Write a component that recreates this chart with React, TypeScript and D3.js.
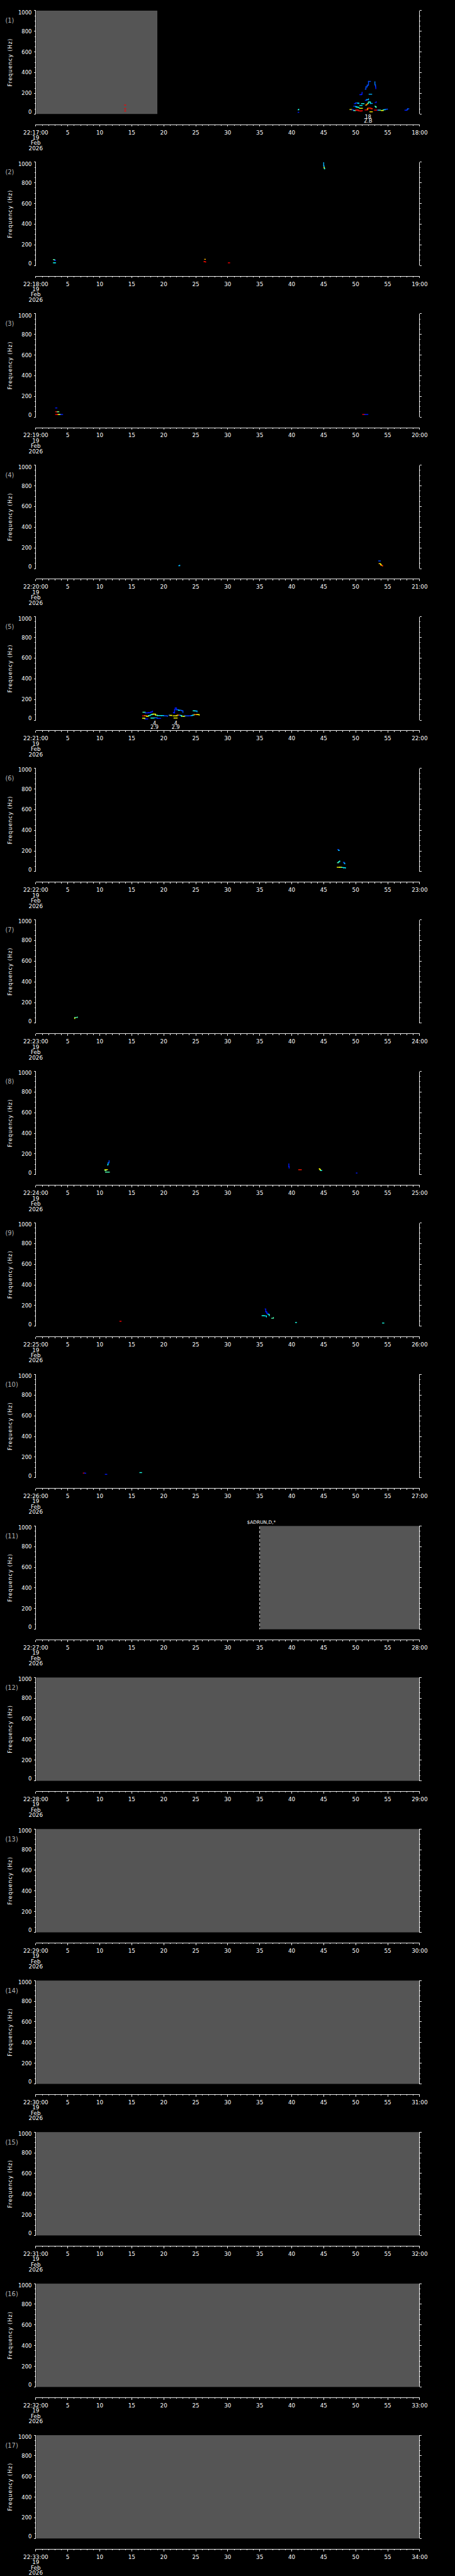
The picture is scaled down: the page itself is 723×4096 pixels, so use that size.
import React from 'react';
import * as d3 from 'd3';

// reference layout is 1024 x 5802, drawn through a viewBox into 723 x 4096
const W = 1024;
const H = 5802;
const X0 = 80.5;
const X1 = 944.5;
const TOP0 = 24;
const PITCH = 341.3;
const PLOT_H = 232.7;
const AXIS_GAP = 24;
const FONT = 'DejaVu Sans, sans-serif';

// one panel per minute, 22:17 .. 22:33
const panelMinutes = d3.range(17, 34);
const secondTicks = [5, 10, 15, 20, 25, 30, 35, 40, 45, 50, 55];
const freqTicks = [0, 200, 400, 600, 800, 1000];
const dateLines = ['19', 'Feb', '2026'];

// no-data (gray) spans: [panel, from s, to s]
const grayRanges: [number, number, number][] = [
  [1, 0, 19],
  [11, 35, 60],
  [12, 0, 60],
  [13, 0, 60],
  [14, 0, 60],
  [15, 0, 60],
  [16, 0, 60],
  [17, 0, 60],
];

// dashed event markers: panel, second, text
const markerLines = [{ panel: 11, t: 35, text: '$ADRUN,D,*' }];

// labels under detections: panel, second, two lines
const eventLabels = [
  { panel: 1, t: 51.93, lines: ['18', '2.B'] },
  { panel: 5, t: 18.56, lines: ['4', '2.9'] },
  { panel: 5, t: 21.88, lines: ['4', '2.9'] },
];

// tracks: [second, Hz, level 0..1]
type Pt = [number, number, number];

const p1Tracks: Pt[][] = [
  [[51.5, 240, .2], [51.6, 262, .2], [51.8, 278, .2], [52.0, 315, .2], [52.3, 315, .25]],
  [[53.0, 311, .25], [53.0, 282, .2], [53.1, 262, .15], [53.15, 245, .15]],
  [[50.65, 187, .15], [50.9, 190, .15], [51.0, 210, .2]],
  [[52.1, 191, .3], [52.5, 191, .4]],
  [[51.5, 132, .15], [51.7, 138, .3], [52.0, 146, .2]],
  [[53.04, 110, .15], [53.2, 118, .2]],
  [[49.8, 100, .15], [50.0, 107, .2], [50.3, 105, .35], [50.5, 102, .2]],
  [[50.9, 100, .4], [51.3, 100, .6]],
  [[51.54, 86, .7], [51.7, 92, .75], [51.82, 102, .65]],
  [[51.9, 102, .4], [52.0, 115, .45], [52.2, 115, .4], [52.3, 102, .3], [52.6, 102, .2]],
  [[49.7, 75, .2], [50.0, 70, .35], [50.2, 65, .4], [50.5, 62, .2]],
  [[50.66, 82, .35], [51.0, 82, .2]],
  [[53.0, 75, .4], [53.1, 70, .45], [53.2, 64, .6]],
  [[50.6, 55, .6], [51.05, 55, .4]],
  [[51.8, 47, .65], [51.9, 57, .85], [52.2, 57, .85], [52.4, 52, .85], [52.6, 50, .88]],
  [[51.47, 39, .88], [51.84, 39, .85]],
  [[49.1, 43, .62], [49.4, 40, .15], [49.7, 33, .45], [50.0, 36, .88], [50.2, 40, .88], [50.4, 31, .85], [50.7, 29, .88], [51.0, 33, .85]],
  [[52.93, 37, .88], [53.4, 37, .2], [53.6, 37, .45], [53.9, 37, .4]],
  [[54.0, 33, .62], [54.3, 40, .4], [54.6, 45, .2], [54.95, 47, .15]],
  [[52.23, 21, .65], [52.6, 21, .7]],
  [[57.7, 36, .15], [58.0, 40, .2], [58.1, 50, .2], [58.3, 50, .2]],
  [[41.0, 40, .4], [41.1, 45, .35]],
  [[41.0, 16, .15], [41.1, 16, .15]],
  [[13.9, 86, .88], [14.05, 86, .62]],
  [[13.9, 50, .88], [14.05, 50, .88]],
  [[13.9, 29, .88], [14.05, 29, .88]],
];

const p2Tracks: Pt[][] = [
  [[45.0, 995, .3], [45.0, 965, .3], [45.05, 950, .62], [45.1, 940, .4], [45.15, 935, .15]],
  [[2.75, 57, .5], [2.9, 57, .45], [2.95, 50, .15], [3.1, 50, .15]],
  [[2.75, 26, .4], [2.95, 26, .35], [3.1, 26, .15]],
  [[26.4, 60, .7], [26.5, 60, .7]],
  [[26.3, 38, .85], [26.45, 36, .9], [26.55, 32, .88]],
  [[30.1, 26, .88], [30.3, 26, .15]],
];

const p3Tracks: Pt[][] = [
  [[3.1, 88, .15], [3.3, 88, .15]],
  [[3.1, 51, .88], [3.35, 51, .5], [3.6, 51, .4]],
  [[3.1, 25, .88], [3.4, 25, .88], [3.5, 25, .62], [3.7, 25, .5], [3.9, 25, .15], [4.2, 25, .15]],
  [[51.1, 25, .88], [51.4, 25, .15], [51.9, 25, .15]],
];

const p4Tracks: Pt[][] = [
  [[22.35, 28, .3], [22.5, 33, .25]],
  [[53.6, 74, .2], [53.85, 74, .3]],
  [[53.65, 47, .7], [53.8, 47, .62], [53.9, 38, .65], [54.0, 30, .8], [54.2, 25, .85]],
];

const p5Tracks: Pt[][] = [
  [[16.75, 76, .45], [17.1, 70, .15], [17.6, 72, .15], [18.0, 80, .15], [18.25, 87, .15]],
  [[16.7, 41, .88], [17.0, 41, .75], [17.33, 37, .62], [17.6, 44, .4], [17.9, 51, .35], [18.1, 55, .45], [18.32, 58, .62], [18.72, 48, .55], [19.0, 44, .4], [19.64, 44, .35], [20.0, 41, .2], [20.57, 37, .15]],
  [[20.8, 48, .2], [20.95, 46, .62], [21.26, 44, .2]],
  [[21.49, 41, .62], [21.96, 41, .62], [22.1, 48, .75], [22.4, 48, .2], [22.65, 44, .4], [22.8, 37, .55], [23.11, 37, .62], [23.3, 41, .2], [24.0, 41, .15], [24.27, 44, .3], [24.5, 48, .4], [24.74, 53, .75], [25.19, 53, .62], [25.54, 48, .62]],
  [[16.7, 18, .62], [17.0, 15, .6], [17.1, 11, .15], [17.5, 11, .15]],
  [[18.0, 20, .4], [18.5, 22, .25], [19.0, 17, .15], [19.5, 17, .15]],
  [[21.6, 20, .62], [22.1, 20, .62]],
  [[21.5, 75, .15], [21.6, 70, .15], [21.7, 100, .15], [21.8, 118, .15], [21.95, 118, .15], [22.0, 100, .2], [22.3, 95, .4], [22.6, 95, .2], [22.8, 90, .2], [23.0, 75, .2]],
  [[24.6, 90, .4], [24.9, 88, .3], [25.2, 80, .15]],
];

const p6Tracks: Pt[][] = [
  [[47.2, 215, .2], [47.3, 205, .3], [47.45, 205, .2]],
  [[47.16, 86, .45], [47.3, 95, .4], [47.5, 103, .35]],
  [[48.07, 90, .2], [48.2, 82, .3], [48.3, 75, .2]],
  [[47.12, 42, .62], [47.5, 42, .6], [47.8, 40, .4], [48.1, 38, .35], [48.4, 35, .2]],
];

const p7Tracks: Pt[][] = [
  [[6.07, 44, .62], [6.1, 55, .45], [6.5, 59, .4]],
];

const p8Tracks: Pt[][] = [
  [[11.2, 94, .35], [11.3, 115, .2], [11.46, 135, .2]],
  [[10.8, 49, .62], [11.2, 49, .55]],
  [[10.8, 40, .5], [11.0, 40, .5]],
  [[10.9, 25, .45], [11.5, 25, .4]],
  [[39.55, 104, .15], [39.55, 80, .15], [39.6, 64, .62]],
  [[41.1, 48, .85], [41.5, 48, .2]],
  [[44.3, 57, .62], [44.4, 50, .62], [44.5, 41, .4], [44.7, 41, .35]],
  [[50.1, 16, .15], [50.2, 16, .15]],
];

const p9Tracks: Pt[][] = [
  [[13.15, 48, .88], [13.33, 48, .15]],
  [[35.85, 167, .15], [35.95, 140, .15], [36.1, 125, .15], [36.3, 115, .4], [36.5, 102, .45]],
  [[35.37, 102, .4], [35.7, 100, .35], [36.05, 90, .15]],
  [[36.87, 77, .45], [37.14, 84, .5]],
  [[40.6, 36, .4], [40.75, 36, .2]],
  [[54.2, 31, .4], [54.4, 31, .2]],
];

const p10Tracks: Pt[][] = [
  [[7.43, 45, .88], [7.6, 45, .15], [7.8, 43, .15]],
  [[10.87, 33, .15], [11.1, 33, .15]],
  [[16.27, 50, .4], [16.54, 50, .2]],
];

const tracksByPanel: Pt[][][] = [
  p1Tracks, p2Tracks, p3Tracks, p4Tracks, p5Tracks, p6Tracks, p7Tracks, p8Tracks, p9Tracks, p10Tracks,
];

const x = d3.scaleLinear().domain([0, 60]).range([X0, X1]);
const y = d3.scaleLinear().domain([0, 1000]).range([PLOT_H, 0]);
const jet = d3
  .scaleLinear<string>()
  .domain([0, 0.125, 0.375, 0.625, 0.875, 1])
  .range(['#00007f', '#0000ff', '#00ffff', '#ffff00', '#ff0000', '#7f0000'])
  .clamp(true);

function Panel({ idx, minute }: { idx: number; minute: number }) {
  const n = idx + 1;
  const top = TOP0 + idx * PITCH;
  const axisY = PLOT_H + AXIS_GAP;
  const tracks = tracksByPanel[idx] || [];
  const grays = grayRanges.filter((g) => g[0] === n);
  const markers = markerLines.filter((m) => m.panel === n);
  const labels = eventLabels.filter((l) => l.panel === n);
  const yMinor = d3.range(0, 1001, 50);
  const xMinor = d3.range(0, 61, 1);

  const yLabelY = (v: number) => (v === 1000 ? y(v) + 4 : v === 0 ? y(v) - 4.5 : y(v));

  return (
    <g transform={`translate(0,${top})`}>
      {grays.map((g, i) => (
        <rect key={i} x={x(g[1]) + 1} y={0} width={x(g[2]) - x(g[1]) - 1} height={PLOT_H} fill="#555555" />
      ))}

      {tracks.map((tr, i) => (
        <g key={i}>
          {tr.slice(0, -1).map((p, j) => {
            const q = tr[j + 1];
            return (
              <path
                key={j}
                d={`M${x(p[0])},${y(p[1])}H${x(q[0])}V${y(q[1])}`}
                fill="none"
                stroke={jet(p[2])}
                strokeWidth={2}
                strokeLinecap="square"
              />
            );
          })}
        </g>
      ))}

      {markers.map((m, i) => (
        <g key={i}>
          <line x1={x(m.t)} x2={x(m.t)} y1={1} y2={PLOT_H} stroke="#fff" strokeWidth={1.3} strokeDasharray="6 3.5" />
          <text x={556} y={-8.5} fill="#fff" fontFamily={FONT} fontSize={10.5} dominantBaseline="central">
            {m.text}
          </text>
        </g>
      ))}

      {labels.map((l, i) => (
        <g key={i} fill="#fff" fontFamily={FONT} fontSize={11.5} textAnchor="middle">
          <text x={x(l.t)} y={PLOT_H + 6.5} dominantBaseline="central">{l.lines[0]}</text>
          <text x={x(l.t)} y={PLOT_H + 15.3} dominantBaseline="central">{l.lines[1]}</text>
        </g>
      ))}

      {/* left axis */}
      <g stroke="#fff" strokeWidth={1.3} shapeRendering="crispEdges">
        <line x1={X0} x2={X0} y1={y(1000)} y2={y(0)} />
        {yMinor.map((v) => (
          <line key={v} x1={X0} x2={X0 - (v % 200 === 0 ? 4.3 : 2.5)} y1={y(v)} y2={y(v)} />
        ))}
      </g>
      <g fill="#fff" fontFamily={FONT} fontSize={12} textAnchor="end">
        {freqTicks.map((v) => (
          <text key={v} x={71.5} y={yLabelY(v)} dominantBaseline="central">{v}</text>
        ))}
      </g>

      {/* right axis */}
      <g stroke="#fff" strokeWidth={1.3} shapeRendering="crispEdges">
        <line x1={X1} x2={X1} y1={y(1000)} y2={y(0)} />
        {yMinor.map((v) => (
          <line key={v} x1={X1} x2={X1 + (v % 200 === 0 ? 4.5 : 2.3)} y1={y(v)} y2={y(v)} />
        ))}
      </g>

      {/* bottom time axis */}
      <g stroke="#fff" strokeWidth={1.3} shapeRendering="crispEdges">
        <line x1={X0} x2={X1} y1={axisY} y2={axisY} />
        {xMinor.map((s) => (
          <line key={s} x1={x(s)} x2={x(s)} y1={axisY} y2={axisY + (s % 5 === 0 ? 4.7 : 2.7)} />
        ))}
      </g>
      <g fill="#fff" fontFamily={FONT} fontSize={12.5} textAnchor="middle">
        <text x={x(0)} y={axisY + 17.6} dominantBaseline="central">{`22:${minute}:00`}</text>
        {secondTicks.map((s) => (
          <text key={s} x={x(s)} y={axisY + 17.6} dominantBaseline="central">{s}</text>
        ))}
        <text x={x(60)} y={axisY + 17.6} dominantBaseline="central">{`${minute + 1}:00`}</text>
        {dateLines.map((d, i) => (
          <text key={d} x={x(0)} y={axisY + 29.5 + i * 12} dominantBaseline="central">{d}</text>
        ))}
      </g>

      <text x={12} y={22.7} fill="#b4b4b4" fontFamily={FONT} fontSize={14} dominantBaseline="central">
        {`(${n})`}
      </text>
      <text
        transform={`translate(23,${PLOT_H / 2}) rotate(-90)`}
        fill="#fff"
        fontFamily={FONT}
        fontSize={12}
        letterSpacing={1.3}
        textAnchor="middle"
        dominantBaseline="central"
      >
        Frequency (Hz)
      </text>
    </g>
  );
}

export default function App() {
  return (
    <svg
      width={723}
      height={4096}
      viewBox={`0 0 ${W} ${H}`}
      preserveAspectRatio="none"
      style={{ position: 'absolute', left: 0, top: 0, display: 'block', background: '#000' }}
    >
      <rect x={0} y={0} width={W} height={H} fill="#000" />
      {panelMinutes.map((m, i) => (
        <Panel key={m} idx={i} minute={m} />
      ))}
    </svg>
  );
}
